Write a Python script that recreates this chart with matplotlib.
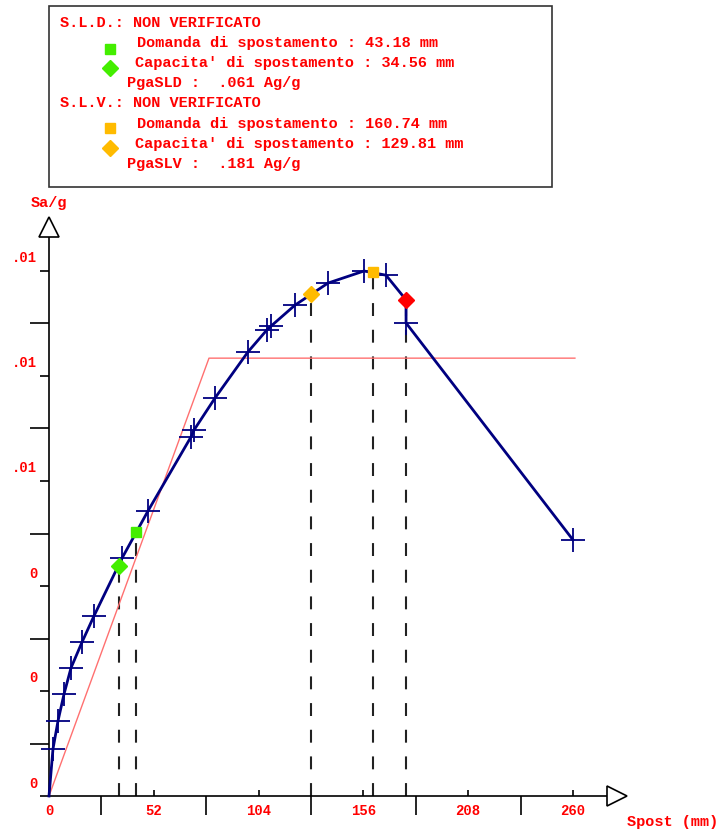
import matplotlib
matplotlib.use('Agg')
import matplotlib.pyplot as plt
from matplotlib.patches import Rectangle
from matplotlib.transforms import ScaledTranslation

# pushover curve (spost in mm, Sa/g)
spost = [0, 1.99, 4.47, 7.44, 10.92, 16.38, 22.33, 36.23, 49.13, 70.47, 71.96, 82.38,
         98.76, 108.19, 110.17, 122.08, 138.46, 156.33, 167.25, 177.2, 177.2, 260.0]
sa = [0, 0.00090, 0.00143, 0.00194, 0.00244, 0.00293, 0.00343, 0.00453, 0.00543, 0.00684,
      0.00697, 0.00758, 0.00846, 0.00888, 0.00895, 0.00935, 0.00977, 0.01000, 0.00992,
      0.00945, 0.00901, 0.00488]
cross_idx = [i for i in range(1, len(spost)) if i != 19]

# bilinear equivalent
bil_x = [0, 79.4, 261.0]
bil_y = [0, 0.00834, 0.00834]

# checks
sld_dom = (43.18, 0.00503)
sld_cap = (34.56, 0.00438)
slv_dom = (160.74, 0.00998)
slv_cap = (129.81, 0.00956)
collapse = (177.2, 0.00945)

x_ticks = [0, 52, 104, 156, 208, 260]
x_minor = [26, 78, 130, 182, 234]
y_ticks = [0, 0.002, 0.004, 0.006, 0.008, 0.010]
y_labels = ['0', '0', '0', '.01', '.01', '.01']
y_minor = [0.001, 0.003, 0.005, 0.007, 0.009]

legend_lines = [
    (60, 23, "S.L.D.: NON VERIFICATO"),
    (137, 43, "Domanda di spostamento : 43.18 mm"),
    (135, 63, "Capacita' di spostamento : 34.56 mm"),
    (127, 83, "PgaSLD :  .061 Ag/g"),
    (60, 103, "S.L.V.: NON VERIFICATO"),
    (137, 124, "Domanda di spostamento : 160.74 mm"),
    (135, 144, "Capacita' di spostamento : 129.81 mm"),
    (127, 164, "PgaSLV :  .181 Ag/g"),
]

W, H = 721, 835
PX_MM = 2.015
PX_SA = 52500.0
X0, Y0 = 49, 796

RED = '#ff0000'
NAVY = '#000080'
GREEN = '#44ee00'
YELLOW = '#ffbb00'
FONT = 'Liberation Mono'

fig = plt.figure(figsize=(W / 100, H / 100), dpi=100)
ax = fig.add_axes([0, 0, 1, 1])
ax.set_xlim(-X0 / PX_MM, (W - X0) / PX_MM)
ax.set_ylim((Y0 - H) / PX_SA, Y0 / PX_SA)

for s in ['top', 'right']:
    ax.spines[s].set_visible(False)
ax.spines['left'].set_position(('data', 0))
ax.spines['bottom'].set_position(('data', 0))
ax.spines['left'].set_bounds(0, (Y0 - 237) / PX_SA)
ax.spines['bottom'].set_bounds(0, (607 - X0) / PX_MM)
for s in ['left', 'bottom']:
    ax.spines[s].set_linewidth(1.2)

ax.set_xticks(x_ticks)
ax.set_xticklabels([str(v) for v in x_ticks])
ax.set_xticks(x_minor, minor=True)
ax.set_yticks(y_ticks)
ax.set_yticklabels(y_labels)
ax.set_yticks(y_minor, minor=True)
ax.tick_params(axis='x', which='major', direction='in', length=4.5, width=1.2, pad=6,
               labelcolor=RED, labelsize=10)
ax.tick_params(axis='x', which='minor', direction='out', length=13.5, width=1.2)
ax.tick_params(axis='y', which='major', direction='out', length=6.5, width=1.2, pad=2,
               labelcolor=RED, labelsize=10)
ax.tick_params(axis='y', which='minor', direction='out', length=13.5, width=1.2)
for lab in ax.get_xticklabels() + ax.get_yticklabels():
    lab.set_fontfamily(FONT)
    lab.set_fontweight('bold')
for lab in ax.get_yticklabels():
    lab.set_transform(lab.get_transform() + ScaledTranslation(0, 14 / 100, fig.dpi_scale_trans))

# axis arrows
ax.plot([0], [(Y0 - 227.5) / PX_SA], marker='^', ms=14, mfc='white', mec='black', mew=1.2,
        clip_on=False, zorder=5)
ax.plot([(617 - X0) / PX_MM], [0], marker='>', ms=14, mfc='white', mec='black', mew=1.2,
        clip_on=False, zorder=5)
ax.text(0, (Y0 - 203) / PX_SA, 'Sa/g', color=RED, fontsize=11, fontweight='bold',
        family=FONT, ha='center', va='center')
ax.text((673 - X0) / PX_MM, (Y0 - 822) / PX_SA, 'Spost (mm)', color=RED, fontsize=11,
        fontweight='bold', family=FONT, ha='center', va='center')

# dashed verticals
dash = (0, (6.2, 6.6))
for px, py in [sld_cap, sld_dom, slv_cap, slv_dom, collapse]:
    ax.plot([px, px], [0, py], color='#222222', lw=1.5, ls=dash, zorder=1)

ax.plot(bil_x, bil_y, color='#ff7070', lw=1.0, zorder=2)
ax.plot(spost, sa, color=NAVY, lw=2.0, zorder=3)
ax.plot([spost[i] for i in cross_idx], [sa[i] for i in cross_idx], ls='none', marker='+',
        ms=17, mew=1.3, color=NAVY, zorder=4)

ax.plot(*sld_dom, marker='s', ms=7, color=GREEN, ls='none', zorder=6)
ax.plot(*sld_cap, marker='D', ms=8, color=GREEN, ls='none', zorder=6)
ax.plot(*slv_dom, marker='s', ms=7, color=YELLOW, ls='none', zorder=6)
ax.plot(*slv_cap, marker='D', ms=8, color=YELLOW, ls='none', zorder=6)
ax.plot(*collapse, marker='D', ms=8, color=RED, ls='none', zorder=6)

# legend box
fig.patches.append(Rectangle((49 / W, 1 - 187 / H), (552 - 49) / W, (187 - 6) / H,
                             transform=fig.transFigure, fill=False, ec='#333333', lw=1.2))
for lx, ly, txt in legend_lines:
    fig.text(lx / W, 1 - ly / H, txt, color=RED, fontsize=11, fontweight='bold',
             family=FONT, ha='left', va='center')
for my, mk, col, ms in [(49, 's', GREEN, 7), (68, 'D', GREEN, 8),
                        (128, 's', YELLOW, 7), (148, 'D', YELLOW, 8)]:
    ax.plot([110 / W], [1 - my / H], marker=mk, ms=ms, color=col, ls='none',
            transform=fig.transFigure, clip_on=False)

fig.savefig('out.png', dpi=100)
